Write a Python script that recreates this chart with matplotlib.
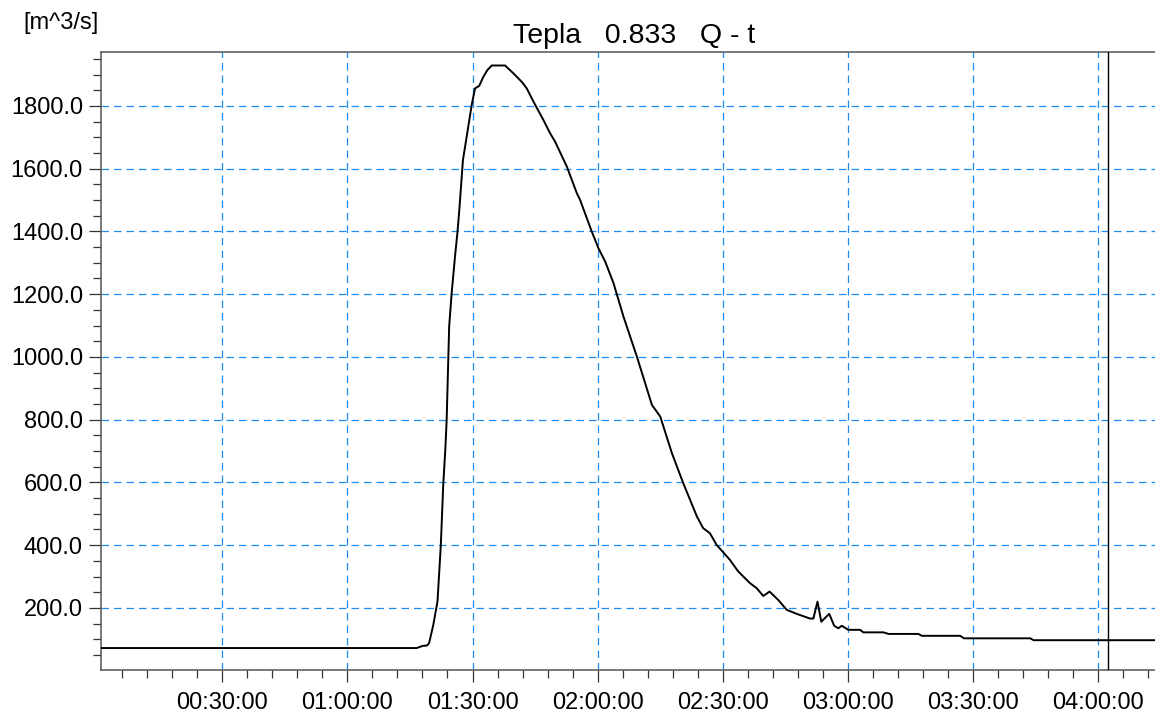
import matplotlib
matplotlib.use("Agg")
import matplotlib.pyplot as plt
from matplotlib.ticker import MultipleLocator, FuncFormatter, FormatStrFormatter

plt.rcParams['font.family'] = ['Liberation Sans', 'DejaVu Sans']

# time in minutes from 00:00:00
t_min = [0.94, 76.6, 78.1, 79.1, 79.6, 80.6, 81.6, 82.4, 83.0, 83.5, 83.8, 84.4,
         85.0, 85.8, 86.4, 86.8, 87.7, 89.8, 90.6, 91.6, 92.6, 93.6, 94.6, 97.8,
         99.8, 101.8, 103.0, 104.6, 107.0, 108.6, 109.8, 112.6, 115.0, 115.8,
         118.6, 120.2, 121.8, 123.8, 126.2, 129.4, 133.0, 135.0, 137.8, 140.5,
         143.8, 145.3, 146.9, 148.5, 151.7, 153.7, 156.5, 158.1, 159.7, 161.2,
         163.3, 165.3, 167.7, 170.9, 171.7, 172.7, 173.6, 175.5, 176.7, 177.7,
         178.5, 180.1, 182.9, 183.7, 188.5, 189.7, 196.9, 197.7, 206.9, 207.8,
         223.7, 224.5, 253.6]
q_vals = [72, 72, 79, 80, 88, 146, 220, 400, 598, 710, 799, 1097,
          1204, 1320, 1399, 1463, 1627, 1803, 1856, 1864, 1893, 1915, 1929, 1929,
          1904, 1877, 1856, 1814, 1755, 1713, 1686, 1607, 1522, 1500,
          1399, 1346, 1304, 1235, 1128, 1001, 847, 810, 693, 598,
          491, 454, 438, 401, 353, 316, 279, 263, 238, 252,
          225, 194, 181, 166, 166, 220, 156, 181, 143, 135,
          143, 130, 130, 122, 122, 117, 117, 111, 111, 103,
          103, 97, 97]

marker_time = 242.3
title = "Tepla   0.833   Q - t"
unit_label = "[m^3/s]"

fig = plt.figure(figsize=(11.55, 7.13), dpi=100)
ax = fig.add_axes([101/1155, 43/713, 1 - 101/1155, (670-52)/713])

grid_c = '#1E8CF0'
ax.plot(t_min, q_vals, color='black', lw=1.4, zorder=3)
ax.axvline(marker_time, color='black', lw=1.0, zorder=3)

ax.set_xlim(0.94, 253.6)
ax.set_ylim(2, 1972)

ax.xaxis.set_major_locator(MultipleLocator(30))
ax.xaxis.set_minor_locator(MultipleLocator(6))
ax.yaxis.set_major_locator(MultipleLocator(200))
ax.yaxis.set_minor_locator(MultipleLocator(50))

def fmt_time(v, pos):
    m = int(round(v))
    return f"{m // 60:02d}:{m % 60:02d}:00"
ax.xaxis.set_major_formatter(FuncFormatter(fmt_time))
ax.yaxis.set_major_formatter(FormatStrFormatter('%.1f'))

ax.grid(True, which='major', color=grid_c, linestyle=(0, (6, 4)), lw=0.9)

ax.tick_params(which='major', length=8.5, width=0.9, color='#333333', labelsize=17, pad=4.5)
ax.tick_params(which='minor', length=5.8, width=0.9, color='#333333')
ax.tick_params(axis='x', pad=7)

for s in ['top', 'left', 'bottom']:
    ax.spines[s].set_color('#555555')
    ax.spines[s].set_linewidth(1.1)
ax.spines['right'].set_visible(False)

fig.text(634.5/1155, 1 - 42.7/713, title, fontsize=20.5, ha='center', va='baseline')
fig.text(23/1155, 1 - 29/713, unit_label, fontsize=17, ha='left', va='baseline')

fig.savefig("out.png", dpi=100)
